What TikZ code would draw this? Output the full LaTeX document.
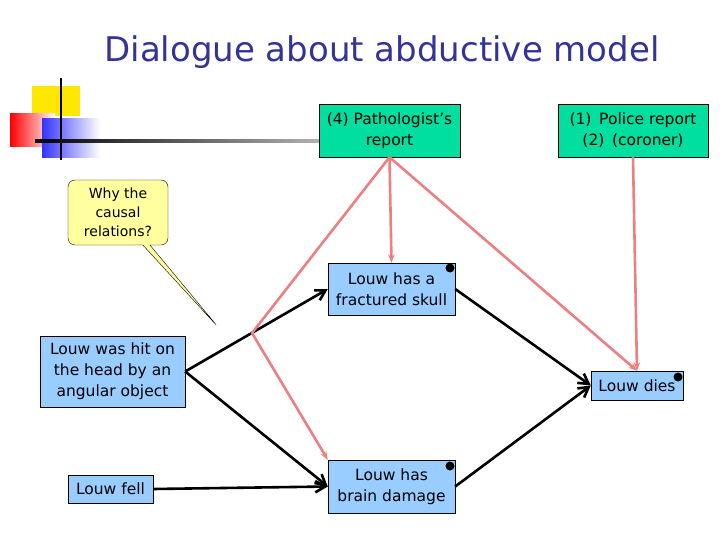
\documentclass[tikz,border=0pt]{standalone}
\usepackage{fontspec}
\setmainfont{DejaVu Sans}
\usetikzlibrary{arrows.meta, positioning, shapes.callouts}
\definecolor{boxblue}{RGB}{153,204,255}
\definecolor{boxgreen}{RGB}{0,222,160}
\definecolor{linkpink}{RGB}{236,128,128}
\definecolor{titleblue}{RGB}{51,51,153}
\definecolor{notey}{RGB}{255,255,160}

\begin{document}
\begin{tikzpicture}[
    x=1pt, y=-1pt,
    fact/.style={draw, fill=boxblue, align=center, inner sep=1pt, font=\fontsize{15.5}{21}\selectfont},
    source/.style={draw, fill=boxgreen, align=center, inner sep=1pt, font=\fontsize{15.5}{21}\selectfont},
    causes/.style={-{Straight Barb[length=3.5mm, width=4mm]}, line width=2.6pt},
    backs/.style={-{Stealth[length=3mm]}, linkpink, line width=2.6pt},
    pin/.style={circle, fill=black, inner sep=0pt, minimum size=9pt}
]
    \useasboundingbox (0,0) rectangle (720,540);

    % Decoration
    \fill[yellow!90!orange] (32,86) rectangle (80,116);
    \shade[left color=red, right color=white] (10,114) rectangle (55,147);
    \shade[left color=blue!80, right color=white] (42,119) rectangle (100,158);
    \draw[line width=2.5pt] (61,78) -- (61,160);
    \shade[left color=black, right color=gray!60] (35,140) rectangle (320,142.5);

    % Title
    \node[font=\fontsize{34}{40}\selectfont, text=titleblue] (title) at (382,52) {Dialogue about abductive model};

    % Sources
    \node[source, minimum width=141pt, minimum height=53pt] (patho) at (389.5,130.5) {(4) Pathologist’s\\report};
    \node[source, minimum width=150pt, minimum height=53pt] (police) at (633,130.5) {(1)\enspace Police report\\(2)\enspace(coroner)};

    % Facts
    \node[fact, minimum width=145pt, minimum height=71pt] (hit) at (112.5,371.5) {Louw was hit on\\the head by an\\angular object};
    \node[fact, minimum width=85pt, minimum height=28pt] (fell) at (110.5,489) {Louw fell};
    \node[fact, minimum width=127pt, minimum height=52pt] (skull) at (391.5,289) {Louw has a\\fractured skull};
    \node[fact, minimum width=127pt, minimum height=53pt] (brain) at (391.5,486.5) {Louw has\\brain damage};
    \node[fact, minimum width=92pt, minimum height=29pt] (dies) at (637,385.5) {Louw dies};
    \node[pin] (pskull) at (450,268) {};
    \node[pin] (pbrain) at (450,466) {};
    \node[pin] (pdies) at (678,377) {};

    % Question
    \node[rectangle callout, rounded corners=7pt, draw, fill=notey, align=center,
        minimum width=100pt, minimum height=65pt, font=\fontsize{14}{19}\selectfont,
        callout absolute pointer={(218,327)}] (why) at (118,212.5) {Why the\\causal\\relations?};

    % Causal links
    \draw[causes] (hit.east) -- (skull.west);
    \draw[causes] (hit.east) -- (brain.west);
    \draw[causes] (fell.east) -- (brain.west);
    \draw[causes] (skull.east) -- (dies.west);
    \draw[causes] (brain.east) -- (dies.west);

    % Backing links
    \coordinate (bend) at (252,333);
    \draw[backs] (patho.south) -- (skull.north);
    \draw[backs] (patho.south) -- (bend) -- (brain.north west);
    \draw[backs] (patho.south) -- (dies.north);
    \draw[backs] (police.south) -- (dies.north);
\end{tikzpicture}
\end{document}
